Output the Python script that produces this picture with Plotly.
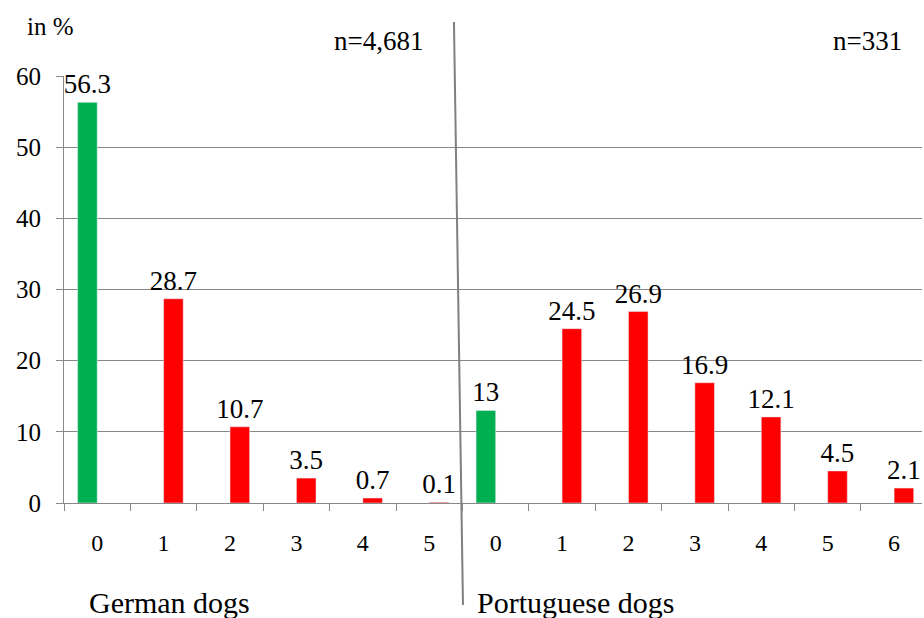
import plotly.graph_objects as go

# Data
groups = ["German dogs"] * 6 + ["Portuguese dogs"] * 7
tick_labels = ["0", "1", "2", "3", "4", "5", "0", "1", "2", "3", "4", "5", "6"]
values = [56.3, 28.7, 10.7, 3.5, 0.7, 0.1, 13, 24.5, 26.9, 16.9, 12.1, 4.5, 2.1]
is_zero = [lbl == "0" for lbl in tick_labels]
n_labels = ["n=4,681", "n=331"]
y_title = "in %"

x_pos = list(range(len(values)))
green_vals = [v if z else None for v, z in zip(values, is_zero)]
red_vals = [None if z else v for v, z in zip(values, is_zero)]

FONT = "Liberation Serif"

def fmt(v):
    return None if v is None else (f"{v:g}")

fig = go.Figure()
fig.add_trace(go.Bar(
    x=x_pos, y=green_vals, marker_color="#00B050",
    text=[fmt(v) for v in green_vals], textposition="outside",
    textfont=dict(family=FONT, size=27, color="black"),
    constraintext="none", cliponaxis=False, showlegend=False,
))
fig.add_trace(go.Bar(
    x=x_pos, y=red_vals, marker_color="#FF0000",
    text=[fmt(v) for v in red_vals], textposition="outside",
    textfont=dict(family=FONT, size=27, color="black"),
    constraintext="none", cliponaxis=False, showlegend=False,
))

fig.update_layout(
    width=924, height=618,
    margin=dict(l=64, r=2, t=76, b=115),
    plot_bgcolor="white", paper_bgcolor="white",
    barmode="group", bargap=0.41, bargroupgap=0,
    font=dict(family=FONT, color="black"),
    xaxis=dict(
        range=[-0.5, 12.42],
        tickmode="array", tickvals=x_pos, ticktext=tick_labels,
        ticks="", showgrid=False, zeroline=False,
        showline=True, linecolor="#888888", linewidth=1,
        tickfont=dict(family=FONT, size=24, color="black"),
        ticklabelstandoff=18,
        minor=dict(tickmode="linear", tick0=-0.5, dtick=1, ticks="outside",
                   ticklen=7, tickcolor="#888888", showgrid=False),
    ),
    yaxis=dict(
        range=[0, 60], dtick=10, tick0=0,
        ticks="outside", ticklen=7, tickcolor="#888888",
        showgrid=True, gridcolor="#888888", gridwidth=1,
        zeroline=False, showline=True, linecolor="#888888", linewidth=1,
        tickfont=dict(family=FONT, size=25, color="black"),
        ticklabelstandoff=10,
    ),
)

ann_font = dict(family=FONT, color="black")
fig.add_annotation(text=y_title, xref="paper", yref="paper", x=-0.0163, y=1.115,
                   xanchor="center", yanchor="middle",
                   showarrow=False, font=dict(ann_font, size=25))
fig.add_annotation(text=n_labels[0], xref="paper", yref="paper", x=0.367, y=1.082,
                   xanchor="center", yanchor="middle",
                   showarrow=False, font=dict(ann_font, size=27))
fig.add_annotation(text=n_labels[1], xref="paper", yref="paper", x=0.937, y=1.082,
                   xanchor="center", yanchor="middle",
                   showarrow=False, font=dict(ann_font, size=27))
fig.add_annotation(text=groups[0], xref="paper", yref="paper", x=0.0268, y=-0.234,
                   xanchor="left", yanchor="middle",
                   showarrow=False, font=dict(ann_font, size=30))
fig.add_annotation(text=groups[-1], xref="paper", yref="paper", x=0.479, y=-0.234,
                   xanchor="left", yanchor="middle",
                   showarrow=False, font=dict(ann_font, size=30))

fig.add_shape(type="line", xref="paper", yref="paper",
              x0=0.4545, y0=1.1265, x1=0.465, y1=-0.2389,
              line=dict(color="#808080", width=2))

fig.write_html("out.html", config={"displayModeBar": False},
               post_script="document.body.style.margin='0';document.body.style.overflow='hidden';")
